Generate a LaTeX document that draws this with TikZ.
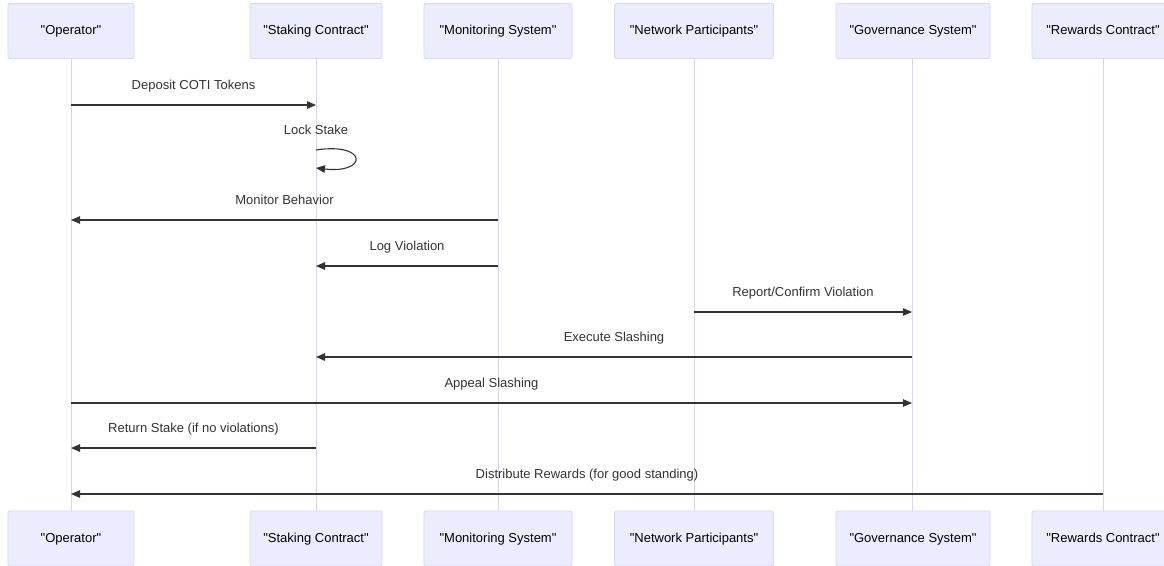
\documentclass[tikz,border=0pt]{standalone}
\usepackage{fontspec}
\setmainfont{Liberation Sans}
\usetikzlibrary{arrows.meta}
\definecolor{actfill}{HTML}{ECECFF}
\definecolor{actline}{HTML}{DCD4F4}
\definecolor{lifeline}{HTML}{DCD0F4}
\definecolor{ink}{HTML}{333333}
\newcommand{\qt}[1]{\textquotedbl#1\textquotedbl}
\tikzset{
  actor/.style={draw=actline, line width=0.8pt, fill=actfill, rounded corners=2pt,
    minimum height=55pt, text=black, font=\fontsize{13}{15}\selectfont, inner sep=0pt,
    text height=9.5pt, text depth=2.5pt},
  life/.style={draw=lifeline, line width=1pt},
  msg/.style={draw=ink, line width=1.1pt, -{Triangle[length=9pt,width=7.5pt]}},
  lbl/.style={text=ink, font=\fontsize{13}{15}\selectfont, inner sep=0pt,
    text height=9.5pt, text depth=2.5pt}
}
\begin{document}
\begin{tikzpicture}[x=1pt,y=-1pt]
\useasboundingbox (0,0) rectangle (1164,565);
\fill[white] (0,0) rectangle (1164,565);
% lifelines
\foreach \n/\x in {op/71,st/316,mo/498,ne/694,go/912,re/1103}{
  \coordinate (\n t) at (\x,59);
  \coordinate (\n b) at (\x,511);
  \draw[life] (\n t) -- (\n b);
}
% actors, top row and bottom row
\foreach \n/\x/\w/\t in {op/71/126/Operator, st/316/132/Staking Contract,
    mo/498/148/Monitoring System, ne/694/159/Network Participants,
    go/913/154/Governance System, re/1103/142/Rewards Contract}{
  \node[actor, minimum width=\w pt] (\n top) at (\x,31) {\qt{\t}};
  \node[actor, minimum width=\w pt] (\n bot) at (\x,538.5) {\qt{\t}};
}
% message anchors on lifelines
\foreach \n/\x in {op/71,st/316,mo/498,ne/694,go/912,re/1103}{
  \foreach \k/\y in {1/105,3/220,4/266,5/312,6/357,7/403,8/448,9/494}{
    \coordinate (\n\k) at (\x,\y);
  }
}
\coordinate (lsA) at (316,150);
\coordinate (lsB) at (316,168);
% messages
\draw[msg] (op1) -- node[lbl, above=12.5pt] {Deposit COTI Tokens} (st1);
\node[lbl] (lslbl) at (316,131) {Lock Stake};
\draw[msg] (lsA) .. controls (368,142) and (368,174) .. (lsB);
\draw[msg] (mo3) -- node[lbl, above=12.5pt] {Monitor Behavior} (op3);
\draw[msg] (mo4) -- node[lbl, above=12.5pt] {Log Violation} (st4);
\draw[msg] (ne5) -- node[lbl, above=12.5pt] {Report/Confirm Violation} (go5);
\draw[msg] (go6) -- node[lbl, above=12.5pt] {Execute Slashing} (st6);
\draw[msg] (op7) -- node[lbl, above=12.5pt] {Appeal Slashing} (go7);
\draw[msg] (st8) -- node[lbl, above=12.5pt] {Return Stake (if no violations)} (op8);
\draw[msg] (re9) -- node[lbl, above=12.5pt] {Distribute Rewards (for good standing)} (op9);
\end{tikzpicture}
\end{document}
